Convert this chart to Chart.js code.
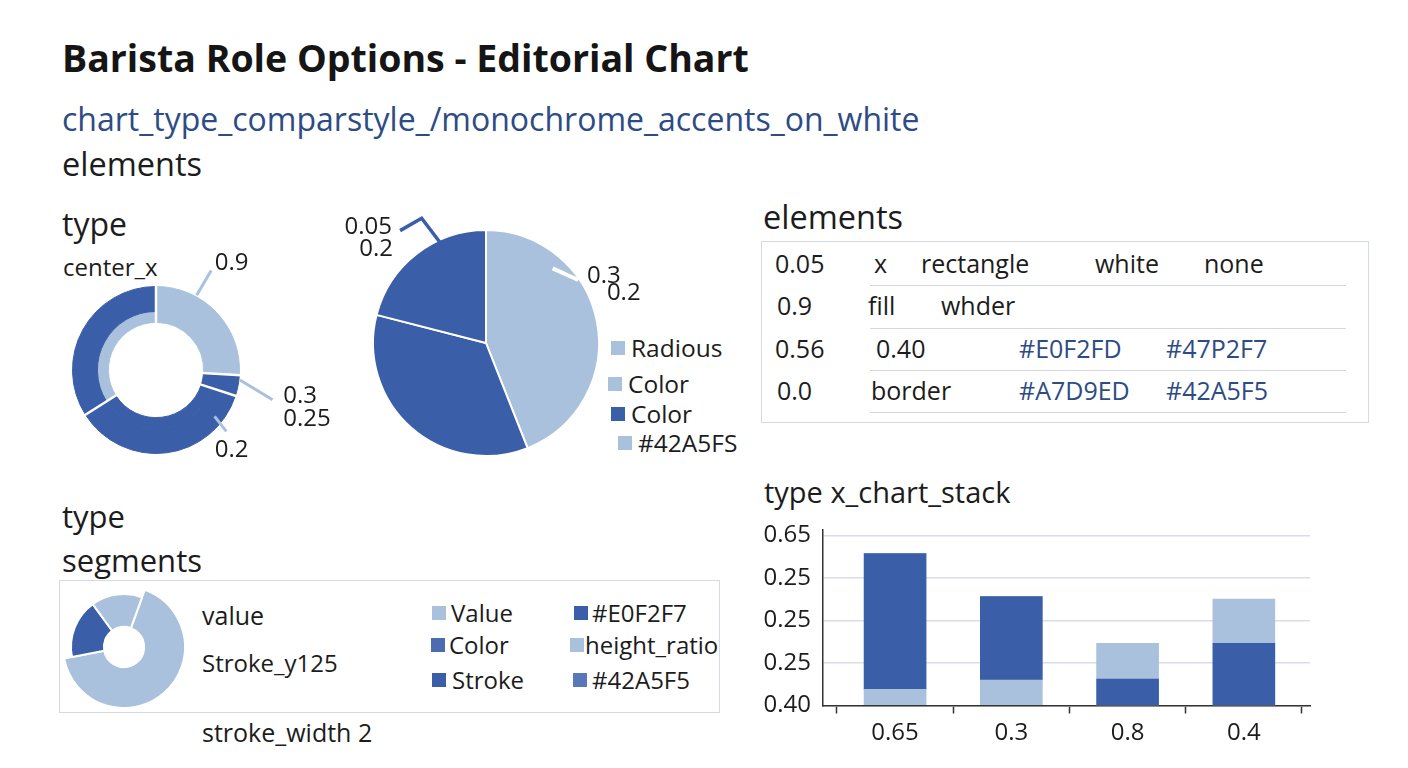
<!DOCTYPE html>
<html><head><meta charset="utf-8">
<script src="https://cdn.jsdelivr.net/npm/chart.js"></script>
<style>
html,body{margin:0;padding:0;background:#fff;}
body{width:1408px;height:768px;position:relative;overflow:hidden;font-family:"Open Sans",sans-serif;color:#1c1c1c;}
.t{position:absolute;white-space:nowrap;line-height:1;}
.box{position:absolute;border:1.5px solid #d5dae0;box-sizing:border-box;}
.rule{position:absolute;height:0;border-top:1.5px solid #d3d8de;}
canvas{position:absolute;}
.lg{position:absolute;display:flex;align-items:center;white-space:nowrap;line-height:1;}
.sq{display:inline-block;flex:none;}
</style></head><body>
<script>
// ---------- colours ----------
const DARK = '#3a5ea8', LIGHT = '#a9c1dd', MID = '#4b6daf', MID2 = '#5878b9';
const INK = '#1c1c1c', BLUE_TEXT = '#2d4b85';

// ---------- data ----------
const ringValues = [0.26, 0.04, 0.36, 0.34];
const ringOuterColors = [LIGHT, DARK, DARK, DARK];
const ringInnerColors = [LIGHT, DARK, DARK, LIGHT];
const ringCalloutLabels = ['0.9', '0.3', '0.25', '0.2'];

const pieValues = [0.44, 0.35, 0.21];
const pieColors = [LIGHT, DARK, DARK];
const pieCalloutLabels = ['0.05', '0.2', '0.3', '0.2'];
const pieLegendLabels = ['Radious', 'Color', 'Color', '#42A5FS'];
const pieLegendColors = [LIGHT, LIGHT, DARK, LIGHT];

const tableFirstCol = ['0.05', '0.9', '0.56', '0.0'];
const tableCells = [
  ['x', 'rectangle', 'white', 'none'],
  ['fill', 'whder'],
  ['0.40', '#E0F2FD', '#47P2F7'],
  ['border', '#A7D9ED', '#42A5F5']
];

const segValues = [0.664, 0.18, 0.156];
const segColors = [LIGHT, DARK, LIGHT];
const segNotes = ['value', 'Stroke_y125', 'stroke_width 2'];
const segLegendLabels = ['Value', 'Color', 'Stroke', '#E0F2F7', 'height_ratio', '#42A5F5'];
const segLegendColors = [LIGHT, MID, DARK, DARK, LIGHT, MID2];

const stackCategories = ['0.65', '0.3', '0.8', '0.4'];
const stackYTickLabels = ['0.40', '0.25', '0.25', '0.25', '0.65']; // bottom -> top
const stackLowerLight = [0.38, 0.60, 0, 0];
const stackDark = [3.19, 1.96, 0.62, 1.46];
const stackUpperLight = [0, 0, 0.84, 1.04];

// ---------- text helpers ----------
function T(text, x, base, size, o = {}) {
  const d = document.createElement('div');
  d.className = 't';
  d.textContent = text;
  d.style.left = x + 'px';
  d.style.top = (base - 0.888 * size) + 'px';
  d.style.fontSize = size + 'px';
  if (o.w) d.style.fontWeight = o.w;
  if (o.c) d.style.color = o.c;
  document.body.appendChild(d);
  return d;
}
function BOX(x, y, w, h) {
  const d = document.createElement('div'); d.className = 'box';
  Object.assign(d.style, {left: x + 'px', top: y + 'px', width: w + 'px', height: h + 'px'});
  document.body.appendChild(d);
}
function RULE(x1, x2, y) {
  const d = document.createElement('div'); d.className = 'rule';
  Object.assign(d.style, {left: x1 + 'px', top: y + 'px', width: (x2 - x1) + 'px'});
  document.body.appendChild(d);
}
function LEG(label, color, sqX, cy, sq, gap, size) {
  const d = document.createElement('div'); d.className = 'lg';
  d.style.left = sqX + 'px'; d.style.top = (cy - size / 2) + 'px'; d.style.height = size + 'px';
  d.style.fontSize = size + 'px';
  const s = document.createElement('span'); s.className = 'sq';
  Object.assign(s.style, {width: sq + 'px', height: sq + 'px', background: color, marginRight: gap + 'px'});
  const t = document.createElement('span'); t.textContent = label;
  d.appendChild(s); d.appendChild(t);
  document.body.appendChild(d);
}
function CANVAS(x, y, w, h) {
  const c = document.createElement('canvas');
  c.width = w; c.height = h;
  Object.assign(c.style, {left: x + 'px', top: y + 'px', width: w + 'px', height: h + 'px'});
  document.body.appendChild(c);
  return c;
}

// ---------- static text ----------
T('Barista Role Options - Editorial Chart', 62, 72, 37.5, {w: 700, c: '#151515'});
T('chart_type_comparstyle_/monochrome_accents_on_white', 62, 131, 32, {c: BLUE_TEXT});
T('elements', 62, 177, 32.5);
T('type', 62, 236, 32);
T('center_x', 63, 276, 24);

T('elements', 763, 230, 32.5);
BOX(761, 241, 608, 182);
const rowBase = [273, 315, 358, 400];
const firstColX = [775, 777, 775, 777];
const cellX = [[874, 921, 1095, 1204], [868, 941], [876, 1019, 1166], [871, 1019, 1166]];
tableFirstCol.forEach((v, r) => T(v, firstColX[r], rowBase[r], 25));
tableCells.forEach((row, r) => row.forEach((v, c) =>
  T(v, cellX[r][c], rowBase[r], 25, v.startsWith('#') ? {c: BLUE_TEXT} : {})));
[284.5, 328, 369.5, 411.5].forEach(y => RULE(870, 1346, y));

const pieLegX = [611, 608, 611, 618], pieLegY = [348, 384, 414, 443];
pieLegendLabels.forEach((l, i) => LEG(l, pieLegendColors[i], pieLegX[i], pieLegY[i], 14, 6, 24.5));

T('type', 62, 529, 31);
T('segments', 62, 573, 31);
BOX(59, 580, 661, 133);
T(segNotes[0], 202, 625, 25);
T(segNotes[1], 202, 672, 24);
T(segNotes[2], 202, 742, 25);
const segLegX = [432, 431, 432, 574, 570, 573], segLegY = [613, 645, 680, 613, 645, 680], segGap = [5, 4, 6, 4, 1, 5];
segLegendLabels.forEach((l, i) => LEG(l, segLegendColors[i], segLegX[i], segLegY[i], 14, segGap[i], 24));

T('type x_chart_stack', 764, 503, 29);

// ---------- plugins ----------
function calloutPlugin(cfg) {
  return {
    id: 'callouts',
    afterDatasetsDraw(chart) {
      const arcs = chart.getDatasetMeta(0).data;
      if (!arcs.length) return;
      const cx = arcs[0].x, cy = arcs[0].y, R = arcs[0].outerRadius;
      const ctx = chart.ctx;
      const P = (deg, rf) => { const a = (deg - 90) * Math.PI / 180; return [cx + Math.cos(a) * rf * R, cy + Math.sin(a) * rf * R]; };
      ctx.save();
      if (cfg.separators) {
        const n = chart.data.datasets.length;
        const inner = chart.getDatasetMeta(n - 1).data;
        ctx.strokeStyle = '#fff'; ctx.lineWidth = cfg.separators;
        arcs.forEach((a, i) => {
          const ang = a.startAngle, r0 = inner[i].innerRadius - 1, r1 = a.outerRadius + 1.5;
          ctx.beginPath();
          ctx.moveTo(cx + Math.cos(ang) * r0, cy + Math.sin(ang) * r0);
          ctx.lineTo(cx + Math.cos(ang) * r1, cy + Math.sin(ang) * r1);
          ctx.stroke();
        });
      }
      (cfg.lines || []).forEach(L => {
        ctx.beginPath();
        L.pts.forEach((p, i) => { const [x, y] = P(p[0], p[1]); i ? ctx.lineTo(x, y) : ctx.moveTo(x, y); });
        ctx.strokeStyle = L.color; ctx.lineWidth = L.width; ctx.lineJoin = 'miter'; ctx.stroke();
      });
      ctx.font = '24px "Open Sans", sans-serif';
      ctx.fillStyle = INK; ctx.textBaseline = 'middle';
      (cfg.texts || []).forEach(t => {
        const [x, y] = P(t.at[0], t.at[1]);
        ctx.textAlign = t.align; ctx.fillText(t.text, x, y);
      });
      ctx.restore();
    }
  };
}
const enlargePlugin = factors => ({
  id: 'enlarge',
  afterDatasetUpdate(chart, args) {
    args.meta.data.forEach((el, i) => { if (factors[i] && factors[i] !== 1) el.outerRadius *= factors[i]; });
  }
});

const base = {
  responsive: false, animation: false, events: [],
  plugins: {legend: {display: false}, tooltip: {enabled: false}}
};

function build() {
  Chart.defaults.font.family = '"Open Sans", sans-serif';
  Chart.defaults.color = INK;

  // ring chart (top-left)
  new Chart(CANVAS(40, 240, 320, 240), {
    type: 'doughnut',
    data: {
      labels: ringValues.map((_, i) => 'segment ' + (i + 1)),
      datasets: [
        {data: ringValues, backgroundColor: ringOuterColors, borderColor: ringOuterColors, borderWidth: 1, weight: 25},
        {data: ringValues, backgroundColor: ringInnerColors, borderColor: ringInnerColors, borderWidth: 1, weight: 11}
      ]
    },
    options: Object.assign({}, base, {cutout: '57%', layout: {padding: {left: 32, right: 120, top: 46, bottom: 26}}}),
    plugins: [calloutPlugin({
      separators: 2.5,
      lines: [
        {pts: [[28.5, 1.02], [29, 1.363]], color: LIGHT, width: 3},
        {pts: [[96.8, 1.012], [104.3, 1.44]], color: LIGHT, width: 3},
        {pts: [[128.4, 0.895], [131.1, 1.117]], color: LIGHT, width: 3}
      ],
      texts: [
        {text: ringCalloutLabels[0], at: [28.9, 1.455], align: 'left'},
        {text: ringCalloutLabels[1], at: [101.5, 1.555], align: 'left'},
        {text: ringCalloutLabels[2], at: [111.3, 1.636], align: 'left'},
        {text: ringCalloutLabels[3], at: [143.9, 1.193], align: 'left'}
      ]
    })]
  });

  // pie (top-middle)
  new Chart(CANVAS(330, 200, 330, 270), {
    type: 'pie',
    data: {
      labels: pieValues.map((_, i) => 'slice ' + (i + 1)),
      datasets: [{data: pieValues, backgroundColor: pieColors, borderColor: '#fff', borderWidth: 2}]
    },
    options: Object.assign({}, base, {layout: {padding: {left: 42, right: 60, top: 29, bottom: 13}}}),
    plugins: [calloutPlugin({
      lines: [
        {pts: [[322.6, 1.252], [332.7, 1.242], [336.1, 0.932]], color: DARK, width: 3.5},
        {pts: [[41.8, 0.886], [55.7, 0.989]], color: '#fff', width: 4}
      ],
      texts: [
        {text: pieCalloutLabels[0], at: [321, 1.321], align: 'right'},
        {text: pieCalloutLabels[1], at: [315.3, 1.170], align: 'right'},
        {text: pieCalloutLabels[2], at: [56.4, 1.073], align: 'left'},
        {text: pieCalloutLabels[3], at: [67.5, 1.158], align: 'left'}
      ]
    })]
  });

  // segments donut (bottom-left)
  new Chart(CANVAS(44, 567, 160, 160), {
    type: 'doughnut',
    data: {
      labels: segValues.map((_, i) => 'segment ' + (i + 1)),
      datasets: [{data: segValues, backgroundColor: segColors, borderColor: '#fff', borderWidth: 2}]
    },
    options: Object.assign({}, base, {cutout: '38%', rotation: 20, layout: {padding: 26}}),
    plugins: [enlargePlugin([1.15, 1, 1])]
  });

  // stacked bars (bottom-right)
  const pts = arr => arr.map((v, i) => ({x: i, y: v}));
  new Chart(CANVAS(745, 503, 600, 262), {
    type: 'bar',
    data: {
      datasets: [
        {label: 'lower', data: pts(stackLowerLight), backgroundColor: LIGHT},
        {label: 'main', data: pts(stackDark), backgroundColor: DARK},
        {label: 'upper', data: pts(stackUpperLight), backgroundColor: LIGHT}
      ]
    },
    options: Object.assign({}, base, {
      layout: {padding: {top: 0, right: 35, left: 0, bottom: 0}},
      datasets: {bar: {barThickness: 62, borderWidth: 0}},
      scales: {
        x: {
          type: 'linear', stacked: true, offset: false, min: -0.62, max: 3.569,
          grid: {offset: true, drawOnChartArea: false, drawTicks: true, tickLength: 8, tickColor: '#333', tickWidth: 1.5},
          border: {display: true, color: '#333', width: 1.5},
          ticks: {stepSize: 1, includeBounds: false, autoSkip: false, maxRotation: 0, padding: 5, color: INK, font: {size: 24},
            callback: v => (stackCategories[v] !== undefined ? stackCategories[v] : '')},
          afterFit(s) { s.height = 59.5; }
        },
        y: {
          type: 'linear', stacked: true, min: 0, max: 4.14,
          grid: {color: '#d9dee6', lineWidth: 1.5, drawTicks: false},
          border: {display: true, color: '#333', width: 1.5},
          ticks: {stepSize: 1, includeBounds: false, padding: 12, color: INK, font: {size: 24},
            callback: v => (stackYTickLabels[v] !== undefined ? stackYTickLabels[v] : '')},
          afterFit(s) { s.width = 78; }
        }
      }
    })
  });
}
(document.fonts ? document.fonts.ready : Promise.resolve()).then(build, build);
</script>
</body></html>
